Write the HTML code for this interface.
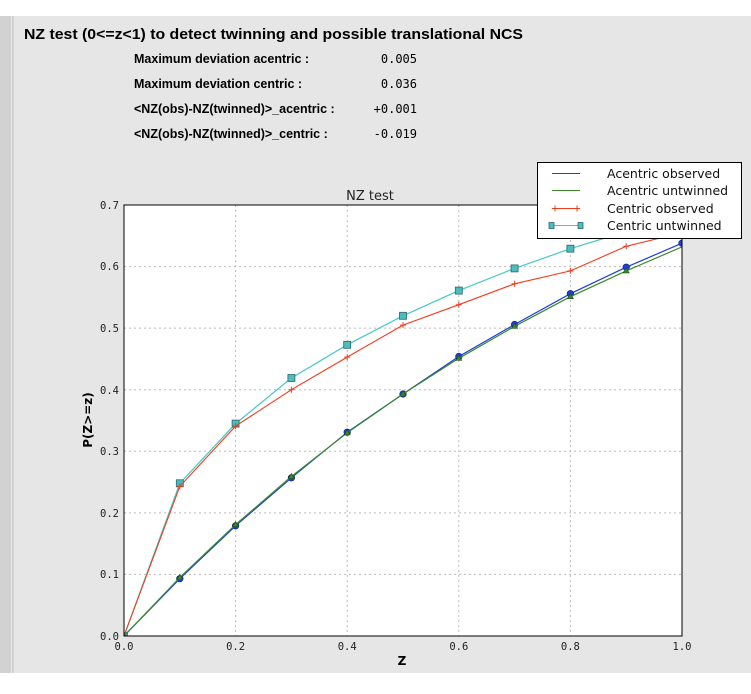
<!DOCTYPE html>
<html><head><style>
body{margin:0;width:751px;height:690px;background:#fff;overflow:hidden;font-family:"DejaVu Sans","Liberation Sans",sans-serif;}
</style></head><body>
<svg width="751" height="690" xmlns="http://www.w3.org/2000/svg">
<rect x="0" y="16" width="751" height="657" fill="#e6e6e6"/>
<rect x="0" y="16" width="11" height="657" fill="#d2d2d2"/>
<line x1="13" y1="16" x2="13" y2="673" stroke="#bdbdbd"/>
<g font-family="Liberation Sans,sans-serif" fill="#000">
<text x="24" y="39" font-size="15" font-weight="bold" textLength="499" lengthAdjust="spacingAndGlyphs">NZ test (0&lt;=z&lt;1) to detect twinning and possible translational NCS</text>
<g font-size="12.5" font-weight="bold">
<text x="134" y="63">Maximum deviation acentric :</text>
<text x="134" y="88">Maximum deviation centric :</text>
<text x="134" y="113">&lt;NZ(obs)-NZ(twinned)&gt;_acentric :</text>
<text x="134" y="138">&lt;NZ(obs)-NZ(twinned)&gt;_centric :</text>
</g>
<g font-family="DejaVu Sans Mono,Liberation Mono,monospace" font-size="12" text-anchor="end">
<text x="417" y="63">0.005</text><text x="417" y="88">0.036</text><text x="417" y="113">+0.001</text><text x="417" y="138">-0.019</text>
</g>
</g>
<rect x="124" y="205" width="558" height="431" fill="#fff"/>
<g stroke="#bbb" stroke-dasharray="2,3" stroke-width="1">
<line x1="235.6" y1="205" x2="235.6" y2="636"/><line x1="347.2" y1="205" x2="347.2" y2="636"/><line x1="458.8" y1="205" x2="458.8" y2="636"/><line x1="570.4" y1="205" x2="570.4" y2="636"/>
<line x1="124" y1="574.4" x2="682" y2="574.4"/><line x1="124" y1="512.9" x2="682" y2="512.9"/><line x1="124" y1="451.3" x2="682" y2="451.3"/><line x1="124" y1="389.7" x2="682" y2="389.7"/><line x1="124" y1="328.1" x2="682" y2="328.1"/><line x1="124" y1="266.6" x2="682" y2="266.6"/>
</g>
<g font-family="DejaVu Sans Mono,Liberation Mono,monospace" font-size="10.5" fill="#222">
<g text-anchor="end"><text x="119" y="640">0.0</text><text x="119" y="578">0.1</text><text x="119" y="517">0.2</text><text x="119" y="455">0.3</text><text x="119" y="394">0.4</text><text x="119" y="332">0.5</text><text x="119" y="270">0.6</text><text x="119" y="209">0.7</text></g>
<g text-anchor="middle"><text x="124" y="650">0.0</text><text x="235.6" y="650">0.2</text><text x="347.2" y="650">0.4</text><text x="458.8" y="650">0.6</text><text x="570.4" y="650">0.8</text><text x="682" y="650">1.0</text></g>
</g>
<text x="402" y="665" font-size="12" font-weight="bold" text-anchor="middle">Z</text>
<text transform="translate(92,420) rotate(-90)" font-size="12" font-weight="bold" text-anchor="middle">P(Z&gt;=z)</text>
<text x="370" y="200" font-size="13" text-anchor="middle" fill="#222">NZ test</text>
<svg x="124" y="205" width="558" height="431" viewBox="124 205 558 431" overflow="hidden">
<polyline fill="none" stroke="#46c8c8" stroke-width="1.2" points="124,636 179.8,483.3 235.6,423.6 291.4,378 347.2,344.8 403,315.8 458.8,290.6 514.6,268.4 570.4,248.7 626.2,231.5 682,215.5"/>
<g fill="#4cbcbc" stroke="#2a6a6a" stroke-width="0.8"><rect x="176.3" y="479.8" width="7" height="7"/><rect x="232.1" y="420.1" width="7" height="7"/><rect x="287.9" y="374.5" width="7" height="7"/><rect x="343.7" y="341.3" width="7" height="7"/><rect x="399.5" y="312.3" width="7" height="7"/><rect x="455.3" y="287.1" width="7" height="7"/><rect x="511.1" y="264.9" width="7" height="7"/><rect x="566.9" y="245.2" width="7" height="7"/><rect x="622.7" y="228" width="7" height="7"/><rect x="120.5" y="632.5" width="7" height="7"/></g>
<polyline fill="none" stroke="#f03c1e" stroke-width="1.1" points="124,636 179.8,486.4 235.6,426.1 291.4,389.7 347.2,357.1 403,325.1 458.8,304.7 514.6,283.8 570.4,270.9 626.2,246.3 682,232.7"/>
<g stroke="#f03c1e" stroke-width="1"><path d="M176.8,486.4h6M179.8,483.4v6M232.6,426.1h6M235.6,423.1v6M288.4,389.7h6M291.4,386.7v6M344.2,357.1h6M347.2,354.1v6M400,325.1h6M403,322.1v6M455.8,304.7h6M458.8,301.7v6M511.6,283.8h6M514.6,280.8v6M567.4,270.9h6M570.4,267.9v6M623.2,246.3h6M626.2,243.3v6"/></g>
<polyline fill="none" stroke="#1f3fd8" stroke-width="1.2" points="124,636 179.8,578.7 235.6,525.8 291.4,477.8 347.2,432.2 403,394 458.8,356.5 514.6,324.5 570.4,293.7 626.2,267.2 682,243.2"/>
<g fill="#1f3fd8" stroke="#102070" stroke-width="0.6"><circle cx="179.8" cy="578.7" r="3.3"/><circle cx="235.6" cy="525.8" r="3.3"/><circle cx="291.4" cy="477.8" r="3.3"/><circle cx="347.2" cy="432.2" r="3.3"/><circle cx="403" cy="394" r="3.3"/><circle cx="458.8" cy="356.5" r="3.3"/><circle cx="514.6" cy="324.5" r="3.3"/><circle cx="570.4" cy="293.7" r="3.3"/><circle cx="626.2" cy="267.2" r="3.3"/><circle cx="682" cy="243.2" r="3.3"/></g>
<polyline fill="none" stroke="#3a8a2a" stroke-width="1.2" points="124,636 179.8,577.5 235.6,524.6 291.4,476.5 347.2,432.8 403,394 458.8,358.3 514.6,326.3 570.4,296.7 626.2,270.9 682,246.9"/>
<g fill="#3a8a2a" stroke="#1a4a10" stroke-width="0.6"><path d="M179.8,574.5l3,5h-6z M235.6,521.6l3,5h-6z M291.4,473.5l3,5h-6z M347.2,429.8l3,5h-6z M403,391l3,5h-6z M458.8,355.3l3,5h-6z M514.6,323.3l3,5h-6z M570.4,293.7l3,5h-6z M626.2,267.9l3,5h-6z"/></g>
</svg>
<rect x="124" y="205" width="558" height="431" fill="none" stroke="#000" stroke-width="1"/>
<rect x="537.5" y="162.5" width="204" height="76" fill="#fff" stroke="#000"/>
<line x1="552" y1="173.5" x2="580" y2="173.5" stroke="#1f3fd8"/>
<line x1="552" y1="190.5" x2="580" y2="190.5" stroke="#3a8a2a"/>
<line x1="552" y1="208.5" x2="580" y2="208.5" stroke="#f03c1e"/>
<path d="M555,205.5v6M577,205.5v6" stroke="#f03c1e"/>
<line x1="552" y1="225.5" x2="580" y2="225.5" stroke="#46c8c8"/>
<rect x="549" y="222.5" width="5" height="6" fill="#4cbcbc" stroke="#2a6a6a" stroke-width="0.8"/>
<rect x="578" y="222.5" width="5" height="6" fill="#4cbcbc" stroke="#2a6a6a" stroke-width="0.8"/>
<g font-size="12.5" fill="#111"><text x="607" y="178">Acentric observed</text><text x="607" y="195">Acentric untwinned</text><text x="607" y="213">Centric observed</text><text x="607" y="230">Centric untwinned</text></g>
</svg>
</body></html>
